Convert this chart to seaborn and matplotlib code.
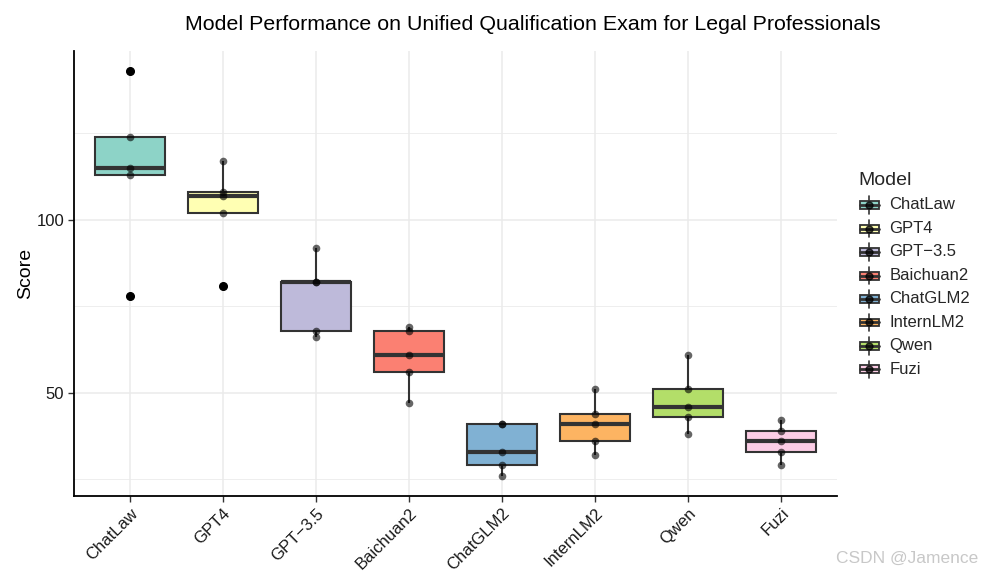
import numpy as np
import pandas as pd
import matplotlib
matplotlib.use("Agg")
import matplotlib.pyplot as plt
import seaborn as sns
from matplotlib.patches import Patch, Rectangle
from matplotlib.lines import Line2D
from matplotlib.legend_handler import HandlerBase

models = ["ChatLaw", "GPT4", "GPT\u22123.5", "Baichuan2", "ChatGLM2", "InternLM2", "Qwen", "Fuzi"]
chatlaw = [143, 124, 115, 113, 78]
gpt4 = [117, 108, 107, 102, 81]
gpt35 = [92, 82, 82, 68, 66]
baichuan2 = [69, 68, 61, 56, 47]
chatglm2 = [41, 41, 33, 29, 26]
internlm2 = [51, 44, 41, 36, 32]
qwen = [61, 51, 46, 43, 38]
fuzi = [42, 39, 36, 33, 29]
colors = ["#8DD3C7", "#FFFFB3", "#BEBADA", "#FB8072", "#80B1D3", "#FDB462", "#B3DE69", "#FCCDE5"]

series = [chatlaw, gpt4, gpt35, baichuan2, chatglm2, internlm2, qwen, fuzi]
df = pd.DataFrame({
    "Model": [m for m, s in zip(models, series) for _ in s],
    "Score": [v for s in series for v in s],
})
df["Model"] = pd.Categorical(df["Model"], categories=models, ordered=True)

sns.set_theme(style="white")
plt.rcParams["font.family"] = ["Liberation Sans", "DejaVu Sans"]

fig = plt.figure(figsize=(9.82, 5.76), dpi=100)
ax = fig.add_axes([74 / 982, 1 - 496 / 576, (837 - 74) / 982, (496 - 51) / 576])

edge = "#333333"
sns.boxplot(data=df, x="Model", y="Score", hue="Model", order=models, hue_order=models,
            palette=colors, width=0.75, linewidth=1.5, linecolor=edge, dodge=False,
            legend=False, showcaps=False, whis=1.5, saturation=1,
            medianprops=dict(linewidth=3, color=edge),
            flierprops=dict(marker="o", markerfacecolor="black", markeredgecolor="black",
                            markersize=5.5), ax=ax)
sns.stripplot(data=df, x="Model", y="Score", order=models, jitter=False, color="black",
              alpha=0.6, size=5.5, linewidth=0, zorder=4, ax=ax)

ax.set_xlim(-0.6, 7.6)
ax.set_ylim(20.15, 148.85)
ax.set_yticks([50, 100])
ax.set_yticks([25, 75, 125], minor=True)
ax.set_axisbelow(True)
ax.grid(which="major", axis="both", color="#EBEBEB", linewidth=1.1)
ax.grid(which="minor", axis="y", color="#EBEBEB", linewidth=0.6)
for s in ["top", "right"]:
    ax.spines[s].set_visible(False)
for s in ["left", "bottom"]:
    ax.spines[s].set_color("black")
    ax.spines[s].set_linewidth(1.3)
ax.tick_params(axis="both", which="major", length=4, width=1, color="#333333",
               labelsize=12, labelcolor="#1A1A1A", left=True, bottom=True, pad=3)
ax.tick_params(axis="y", which="minor", length=0)
plt.setp(ax.get_xticklabels(), rotation=45, ha="right", rotation_mode="anchor")
ax.set_xlabel("")
ax.set_ylabel("Score", fontsize=14, color="black", labelpad=1.5)

fig.text(533 / 982, 1 - 24 / 576, "Model Performance on Unified Qualification Exam for Legal Professionals",
         ha="center", va="center", fontsize=15.4, color="black")


class BoxHandler(HandlerBase):
    def create_artists(self, legend, orig_handle, xdescent, ydescent, width, height, fontsize, trans):
        fc = orig_handle.get_facecolor()
        cx = -xdescent + width / 2
        y0 = -ydescent - 1
        bw = width * 0.92
        bh = height * 0.45
        rect = Rectangle((cx - bw / 2, y0 + height / 2 - bh / 2), bw, bh, facecolor=fc,
                         edgecolor=edge, linewidth=1.3, transform=trans)
        w1 = Line2D([cx, cx], [y0, y0 + height / 2 - bh / 2], color=edge, lw=1.2, transform=trans)
        w2 = Line2D([cx, cx], [y0 + height / 2 + bh / 2, y0 + height], color=edge, lw=1.2, transform=trans)
        med = Line2D([cx - bw / 2, cx + bw / 2], [y0 + height / 2] * 2, color=edge, lw=2, transform=trans)
        dot = Line2D([cx], [y0 + height / 2], marker="o", markersize=5, color="black", alpha=0.7,
                     linestyle="none", transform=trans)
        return [w1, w2, rect, med, dot]


handles = [Patch(facecolor=c, edgecolor=edge, label=m) for m, c in zip(models, colors)]
leg = fig.legend(handles=handles, handler_map={Patch: BoxHandler()}, loc="upper left",
                 bbox_to_anchor=(852 / 982, 1 - 165.5 / 576), frameon=False, title="Model",
                 fontsize=12, title_fontsize=14, handlelength=1.25, handleheight=1.25,
                 handletextpad=0.6, labelspacing=0.35, alignment="left", borderaxespad=0)

fig.text(978 / 982, 1 - 558 / 576, "CSDN @Jamence", ha="right", va="center", fontsize=12.5,
         color="#C8C8C8")

fig.savefig("out.png", dpi=100)
